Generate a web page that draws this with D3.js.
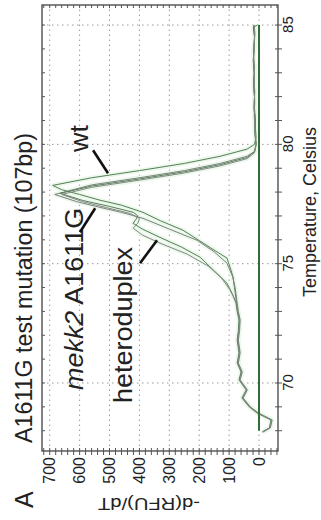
<!DOCTYPE html>
<html><head><meta charset="utf-8">
<script src="https://cdn.jsdelivr.net/npm/d3@7"></script>
<style>
html,body{margin:0;padding:0;background:#fff;}
svg{display:block;}
text{font-family:"Liberation Sans",Arial,Helvetica,sans-serif;fill:#222;}
</style></head>
<body>
<svg id="chart" width="321" height="520"></svg>
<script>
// ---- data (temperature in Celsius, -d(RFU)/dT) ----
const wtT  = [67.95,68.12,68.45,68.74,69.0,69.37,69.71,70.13,70.46,70.84,71.26,71.8,72.2,72.64,73.0,73.35,74.0,74.45,74.85,75.23,75.6,76.0,76.4,76.8,77.15,77.45,77.66,77.9,78.1,78.28,78.6,78.9,79.2,79.5,79.8,80.0,80.3,80.7,81.1,81.5,82.0,82.5,83.0,83.5,84.0,84.5,84.9,85.0];
const wtV  = [-12,-36,-42,4,31,55,41,65,58,71,65,71,67,65,71,75,82,87,97,107,154,204,254,330,388,460,532,600,660,690,560,400,250,130,40,15,10,12,14,16,15,18,16,19,17,15,19,6];

const mutT = [67.95,68.12,68.45,68.74,69.0,69.37,69.71,70.13,70.46,70.84,71.26,71.8,72.2,72.64,73.0,73.35,74.0,74.45,75.02,75.5,75.98,76.45,76.9,77.15,77.36,77.6,77.9,78.3,78.6,78.9,79.2,79.5,79.7,80.0,80.4,80.8,81.2,81.7,82.2,82.7,83.2,83.7,84.2,84.6,85.0];
const mutV = [-14,-38,-44,2,29,53,39,63,56,69,63,69,65,63,69,73,80,88,107,150,207,300,388,460,532,610,683,560,400,250,130,40,15,10,13,15,13,16,14,17,15,18,16,14,17];

const het1T = [67.95,68.12,68.45,68.74,69.0,69.37,69.71,70.13,70.46,70.84,71.26,71.8,72.2,72.64,73.0,73.35,73.7,74.18,74.7,75.27,75.7,76.1,76.45,76.69,76.85,77.0,77.15,77.4,77.65,77.95,78.25,78.55,78.85,79.15,79.45,79.7,80.0,80.5,81.0,81.5,82.0,82.5,83.0,83.5,84.0,84.5,85.0];
const het1V = [-11,-35,-40,6,33,57,43,67,60,73,67,73,69,67,73,77,88,107,150,197,260,331,390,421,412,405,420,500,590,665,560,400,250,130,40,15,10,14,12,17,15,18,16,19,17,15,18];

const het2T = [67.95,68.12,68.45,68.74,69.0,69.37,69.71,70.13,70.46,70.84,71.26,71.8,72.2,72.64,73.0,73.35,73.9,74.4,74.9,75.4,75.86,76.2,76.49,76.7,76.9,77.1,77.35,77.6,77.9,78.2,78.5,78.8,79.1,79.4,79.65,80.0,80.6,81.2,81.8,82.4,83.0,83.6,84.2,84.7,85.0];
const het2V = [-13,-37,-42,3,31,55,41,65,58,71,65,71,67,65,71,75,97,125,170,240,331,390,421,405,400,430,510,590,660,560,400,250,130,40,15,9,13,16,14,17,15,18,16,14,16];

const ntcT = [68.0, 85.0];
const ntcV = [0, 0];

const tempTicks  = [70, 75, 80, 85];
const valueTicks = [0, 100, 200, 300, 400, 500, 600, 700];

const labelText = ["wt", "mekk2 A1611G", "heteroduplex"];
const labelT = [79.68, 69.71, 69.16];
const labelV = [572, 589, 425];
const leaderT1 = [79.75, 76.32, 75.02], leaderV1 = [555, 599, 398];
const leaderT2 = [78.79, 77.32, 75.98], leaderV2 = [505, 548, 341];

const titleText = "A1611G test mutation (107bp)";
const xTitle = "Temperature, Celsius";
const yTitle = "-d(RFU)/dT";

// ---- drawing (chart drawn in landscape, then rotated -90deg) ----
const W = 520, H = 321;
const svg = d3.select("#chart");
const g = svg.append("g").attr("transform", `translate(0,${W}) rotate(-90)`);

const x0 = 69, x1 = 515, y0 = 42, y1 = 278;
const x = d3.scaleLinear().domain([67.15, 85.84]).range([x0, x1]);
const y = d3.scaleLinear().domain([-63.5, 725.8]).range([y1, y0]);

// grid
const grid = g.append("g").attr("stroke", "#9a9a9a").attr("stroke-width", 1).attr("stroke-dasharray", "1.5,3.5");
grid.selectAll(".gv").data(tempTicks).join("line")
  .attr("x1", d => x(d)).attr("x2", d => x(d)).attr("y1", y0).attr("y2", y1);
grid.selectAll(".gh").data(valueTicks).join("line")
  .attr("y1", d => y(d)).attr("y2", d => y(d)).attr("x1", x0).attr("x2", x1);

// curves
const series = [
  {T: wtT, V: wtV, c: "#557f57"},
  {T: mutT, V: mutV, c: "#7d807d"},
  {T: het1T, V: het1V, c: "#557f57"},
  {T: het2T, V: het2V, c: "#858885"}
].map(s => ({c: s.c, pts: s.T.map((t, i) => [t, s.V[i]])}));

const line = d3.line().x(d => x(d[0])).y(d => y(d[1]));
g.append("g").selectAll("path").data(series).join("path")
  .attr("d", d => line(d.pts)).attr("fill", "none")
  .attr("stroke", "#ebf8eb").attr("stroke-width", 4.5).attr("stroke-linejoin", "round");
g.append("g").selectAll("path").data(series).join("path")
  .attr("d", d => line(d.pts)).attr("fill", "none")
  .attr("stroke", d => d.c).attr("stroke-width", 1).attr("stroke-linejoin", "round");

// no-template baseline
g.append("path").attr("d", line(ntcT.map((t, i) => [t, ntcV[i]])))
  .attr("fill", "none").attr("stroke", "#2f6e34").attr("stroke-width", 2);

// frame
g.append("rect").attr("x", x0).attr("y", y0).attr("width", x1 - x0).attr("height", y1 - y0)
  .attr("fill", "none").attr("stroke", "#505050").attr("stroke-width", 1.4);

// ticks
const minorT = d3.range(68, 86, 1);
const minorV = d3.range(-60, 721, 20);
const tk = g.append("g").attr("stroke", "#555").attr("stroke-width", 1);
tk.selectAll(".tb").data(minorT).join("line")
  .attr("x1", d => x(d)).attr("x2", d => x(d)).attr("y1", y1 - 3).attr("y2", y1 + 4);
tk.selectAll(".tt").data(minorT).join("line")
  .attr("x1", d => x(d)).attr("x2", d => x(d)).attr("y1", y0).attr("y2", y0 + 3);
tk.selectAll(".tl").data(minorV).join("line")
  .attr("y1", d => y(d)).attr("y2", d => y(d)).attr("x1", x0 - 4).attr("x2", x0 + 3);
tk.selectAll(".tr").data(minorV).join("line")
  .attr("y1", d => y(d)).attr("y2", d => y(d)).attr("x1", x1 - 3).attr("x2", x1);

// axes labels via d3 axes
const xAxis = g.append("g").attr("transform", `translate(0,${y1})`)
  .call(d3.axisBottom(x).tickValues(tempTicks).tickSize(0).tickPadding(4).tickFormat(d3.format("d")));
xAxis.select(".domain").remove();
xAxis.selectAll("text").attr("font-size", 15).attr("fill", "#222")
  .attr("font-family", '"Liberation Sans",Arial,sans-serif');

const yAxis = g.append("g").attr("transform", `translate(${x0},0)`)
  .call(d3.axisLeft(y).tickValues(valueTicks).tickSize(0).tickPadding(6).tickFormat(d3.format("d")));
yAxis.select(".domain").remove();
yAxis.selectAll("text").attr("font-size", 16).attr("fill", "#222")
  .attr("font-family", '"Liberation Sans",Arial,sans-serif');

// titles
g.append("text").attr("x", 77).attr("y", 32).attr("font-size", 23)
  .attr("textLength", 310).attr("lengthAdjust", "spacingAndGlyphs").text(titleText);
g.append("text").attr("x", 12).attr("y", 33).attr("font-size", 25).text("A");
g.append("text").attr("transform", "translate(22,149) rotate(-90)").attr("text-anchor", "middle")
  .attr("font-size", 16).attr("textLength", 102).attr("lengthAdjust", "spacingAndGlyphs").text(yTitle);
g.append("text").attr("x", 308).attr("y", 316).attr("text-anchor", "middle")
  .attr("font-size", 18).attr("textLength", 170).attr("lengthAdjust", "spacingAndGlyphs").text(xTitle);

// annotations
const lens = [27, 182, 156];
labelText.forEach((t, i) => {
  const tx = g.append("text").attr("x", x(labelT[i])).attr("y", y(labelV[i]))
    .attr("font-size", i === 2 ? 26 : 25).attr("textLength", lens[i]).attr("lengthAdjust", "spacingAndGlyphs");
  if (t.startsWith("mekk2")) {
    tx.append("tspan").attr("font-style", "italic").text("mekk2");
    tx.append("tspan").text(" A1611G");
  } else tx.text(t);
});
g.append("g").selectAll("line").data(labelText).join("line")
  .attr("x1", (d, i) => x(leaderT1[i])).attr("y1", (d, i) => y(leaderV1[i]))
  .attr("x2", (d, i) => x(leaderT2[i])).attr("y2", (d, i) => y(leaderV2[i]))
  .attr("stroke", "#111").attr("stroke-width", 2.6);
</script>
</body></html>
